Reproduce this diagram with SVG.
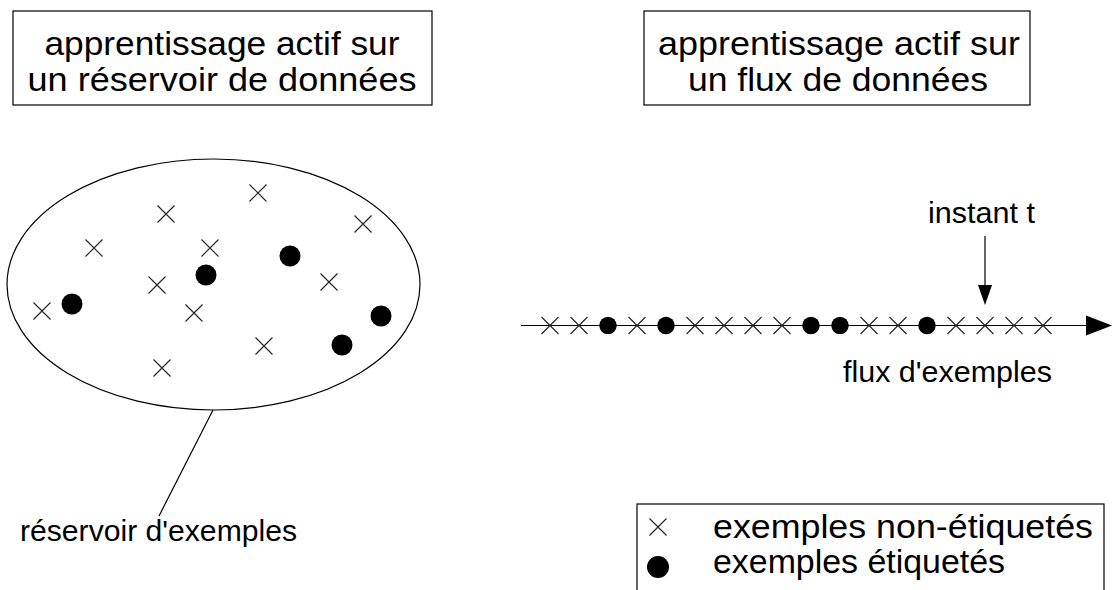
<svg xmlns="http://www.w3.org/2000/svg" xmlns:xlink="http://www.w3.org/1999/xlink" width="1113" height="590" viewBox="0 0 1113 590">
<style>
text{font-family:"Liberation Sans",Arial,sans-serif;fill:#000}
.t{font-size:33px;text-anchor:middle}
.l{font-size:30px}
.g{font-size:34px}
.box{fill:#fff;stroke:#000;stroke-width:1.2}
.x{stroke:#222;stroke-width:1.1;fill:none}
.d{fill:#000}
.ln{stroke:#000;stroke-width:1.2;fill:none}
</style>
<defs>
<path id="cx" d="M-8.5,-8.5 L8.5,8.5 M-8.5,8.5 L8.5,-8.5"/>
</defs>
<rect width="1113" height="590" fill="#fff"/>
<g id="title-left">
<rect class="box" x="13" y="11" width="419" height="94"/>
<text class="t" x="222" y="55" textLength="355" lengthAdjust="spacingAndGlyphs">apprentissage actif sur</text>
<text class="t" x="222" y="90.5" textLength="389" lengthAdjust="spacingAndGlyphs">un réservoir de données</text>
</g>
<g id="title-right">
<rect class="box" x="644" y="11" width="386" height="94"/>
<text class="t" x="839" y="55" textLength="362" lengthAdjust="spacingAndGlyphs">apprentissage actif sur</text>
<text class="t" x="838" y="90.5" textLength="300" lengthAdjust="spacingAndGlyphs">un flux de données</text>
</g>
<g id="pool">
<ellipse class="ln" cx="213.5" cy="284.5" rx="206.5" ry="125.5"/>
<g class="x">
<use href="#cx" x="258" y="193"/>
<use href="#cx" x="166" y="214"/>
<use href="#cx" x="363" y="224"/>
<use href="#cx" x="94" y="248"/>
<use href="#cx" x="210" y="248"/>
<use href="#cx" x="157" y="285"/>
<use href="#cx" x="329" y="282"/>
<use href="#cx" x="42" y="311"/>
<use href="#cx" x="194" y="313"/>
<use href="#cx" x="264" y="346"/>
<use href="#cx" x="162" y="368"/>
</g>
<g class="d">
<circle cx="290" cy="256" r="10.5"/>
<circle cx="206" cy="275" r="10.5"/>
<circle cx="72" cy="304" r="10.5"/>
<circle cx="381" cy="316" r="10.5"/>
<circle cx="342" cy="345" r="10.5"/>
</g>
</g>
<g id="connectors">
<line class="ln" x1="213" y1="410" x2="159" y2="516"/>
<line class="ln" x1="521" y1="325.5" x2="1090" y2="325.5"/>
<polygon points="1086,315.5 1112,325.5 1086,335.5" fill="#000"/>
<line class="ln" x1="985" y1="236" x2="985" y2="290"/>
<polygon points="978,285 992,285 985,305" fill="#000"/>
</g>
<g id="stream">
<g class="x">
<use href="#cx" x="550" y="325.5"/>
<use href="#cx" x="579" y="325.5"/>
<use href="#cx" x="637" y="325.5"/>
<use href="#cx" x="695" y="325.5"/>
<use href="#cx" x="724" y="325.5"/>
<use href="#cx" x="753" y="325.5"/>
<use href="#cx" x="782" y="325.5"/>
<use href="#cx" x="869" y="325.5"/>
<use href="#cx" x="898" y="325.5"/>
<use href="#cx" x="956" y="325.5"/>
<use href="#cx" x="985" y="325.5"/>
<use href="#cx" x="1014" y="325.5"/>
<use href="#cx" x="1043" y="325.5"/>
</g>
<g class="d">
<circle cx="608" cy="325.5" r="8.7"/>
<circle cx="666" cy="325.5" r="8.7"/>
<circle cx="811" cy="325.5" r="8.7"/>
<circle cx="840" cy="325.5" r="8.7"/>
<circle cx="927" cy="325.5" r="8.7"/>
</g>
</g>
<g id="label-pool">
<text class="l" x="20" y="541" textLength="277" lengthAdjust="spacingAndGlyphs">réservoir d'exemples</text>
</g>
<g id="label-instant">
<text class="l" x="928" y="223" textLength="107" lengthAdjust="spacingAndGlyphs">instant t</text>
</g>
<g id="label-flux">
<text class="l" x="843" y="382" textLength="209" lengthAdjust="spacingAndGlyphs">flux d'exemples</text>
</g>
<g id="legend">
<rect class="box" x="637" y="504" width="467" height="100"/>
<use class="x" href="#cx" x="658" y="527"/>
<circle class="d" cx="658" cy="567" r="11"/>
<text class="g" x="713" y="538" textLength="380" lengthAdjust="spacingAndGlyphs">exemples non-étiquetés</text>
<text class="g" x="713" y="573" textLength="292" lengthAdjust="spacingAndGlyphs">exemples étiquetés</text>
</g>
</svg>
